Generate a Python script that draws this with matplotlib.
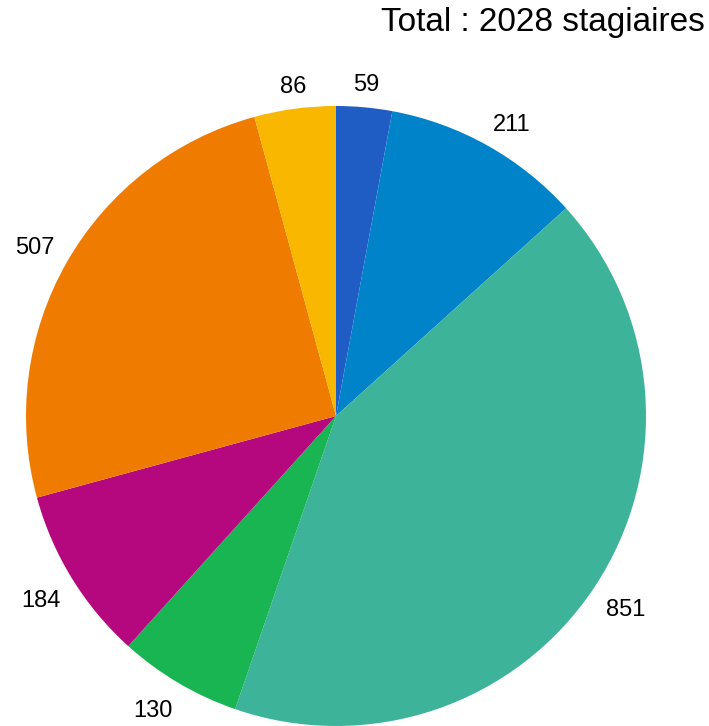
import numpy as np
import matplotlib
matplotlib.use("Agg")
import matplotlib.pyplot as plt

values = [59, 211, 851, 130, 184, 507, 86]
labels = ["59", "211", "851", "130", "184", "507", "86"]
colors = ["#1f5cc4", "#0083c9", "#3db39a", "#19b553", "#b5087e", "#ef7c00", "#fab700"]
title = "Total : 2028 stagiaires"

plt.rcParams["font.family"] = ["Liberation Sans", "DejaVu Sans"]

W, H, DPI = 709, 726, 100
fig = plt.figure(figsize=(W / DPI, H / DPI), dpi=DPI)
fig.patch.set_facecolor("white")

cx, cy, R = 336, 416, 310  # pie centre and radius in pixels (from top-left)
ax = fig.add_axes([(cx - R) / W, (H - cy - R) / H, 2 * R / W, 2 * R / H])

wedges, _ = ax.pie(values, colors=colors, startangle=90, counterclock=False,
                   radius=1.0, wedgeprops=dict(edgecolor="none", linewidth=0))
ax.set_xlim(-1, 1)
ax.set_ylim(-1, 1)
ax.set_aspect("equal")
ax.axis("off")

# value labels: anchored just outside the rim, aligned away from the pie
fig.canvas.draw()
renderer = fig.canvas.get_renderer()
fs = 17
cap = 0.716 * fs * DPI / 72  # digit height in pixels
total = sum(values)
cum = 0
gap = 16.0
for v, lab in zip(values, labels):
    mid = (cum + v / 2) / total * 2 * np.pi
    cum += v
    s, c = np.sin(mid), np.cos(mid)
    t = ax.text(0, 0, lab, fontsize=fs, ha="center", va="baseline", color="black",
                clip_on=False)
    w = t.get_window_extent(renderer).width - 4
    ax_px = (R + gap) * s
    ay_px = (R + gap) * c
    if abs(s) > 0.2:
        ax_px += np.sign(s) * w / 2
    if abs(c) > 0.2:
        ay_px += np.sign(c) * (cap / 2 + (3 if c < 0 else 0))
    t.set_position((ax_px / R, (ay_px - cap / 2) / R))

fig.text(705 / W, 1 - 22 / H, title, fontsize=24, ha="right", va="center", color="black")

fig.savefig("out.png", dpi=DPI)
